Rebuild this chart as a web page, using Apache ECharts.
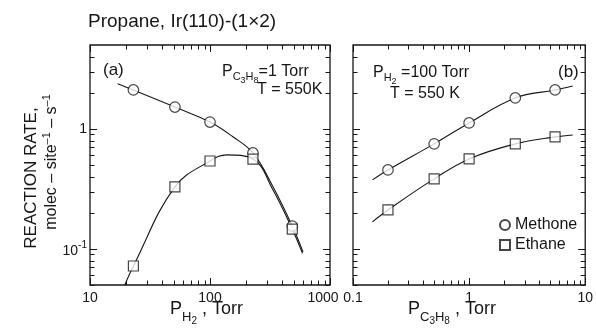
<!DOCTYPE html>
<html>
<head>
<meta charset="utf-8">
<script src="https://cdn.jsdelivr.net/npm/echarts@6/dist/echarts.min.js"></script>
<style>
  html, body { margin: 0; padding: 0; background: #fff; }
  #chart { width: 596px; height: 331px; }
</style>
</head>
<body>
<div id="chart"></div>
<script>
const INK = '#161616';
const FONT = '"Liberation Sans", Arial, sans-serif';

// (a) rate vs hydrogen pressure, P(C3H8) = 1 Torr, T = 550 K
const pH2 = [23, 51, 100, 228, 485];
const methaneVsH2 = [2.11, 1.52, 1.14, 0.63, 0.155];
const ethaneVsH2 = [0.072, 0.329, 0.54, 0.56, 0.146];
// hand-drawn guide curves through each set, as [pressure, rate]
const methaneCurveH2 = [[17, 2.38], [23, 2.11], [51, 1.52], [100, 1.14], [155, 0.86], [228, 0.63], [335, 0.33], [485, 0.155], [596, 0.094]];
const ethaneCurveH2 = [[19.5, 0.05], [23, 0.072], [51, 0.329], [100, 0.54], [138, 0.607], [228, 0.56], [335, 0.31], [485, 0.146], [590, 0.092]];

// (b) rate vs propane pressure, P(H2) = 100 Torr, T = 550 K
const pC3H8 = [0.2, 0.5, 1, 2.5, 5.5];
const methaneVsC3H8 = [0.455, 0.75, 1.12, 1.81, 2.11];
const ethaneVsC3H8 = [0.211, 0.383, 0.562, 0.75, 0.858];
const methaneCurveC3H8 = [[0.147, 0.376], [0.2, 0.455], [0.5, 0.75], [1, 1.12], [2.5, 1.81], [5.5, 2.11], [7.8, 2.28]];
const ethaneCurveC3H8 = [[0.147, 0.168], [0.2, 0.211], [0.5, 0.383], [1, 0.562], [2.5, 0.75], [5.5, 0.858], [7.8, 0.89]];

// axis ranges and tick marks
const rateRange = [0.05, 5];
const pH2Range = [10, 1000];
const pC3H8Range = [0.1, 10];
const rateMajor = [0.1, 1];
const rateMinor = [0.05, 0.06, 0.07, 0.08, 0.09, 0.2, 0.3, 0.4, 0.5, 0.6, 0.7, 0.8, 0.9, 2, 3, 4];
const pH2Major = [10, 100, 1000];
const pH2Minor = [20, 30, 40, 50, 60, 70, 80, 90, 200, 300, 400, 500, 600, 700, 800, 900];
const pC3H8Major = [0.1, 1, 10];
const pC3H8Minor = [0.2, 0.3, 0.4, 0.5, 0.6, 0.7, 0.8, 0.9, 2, 3, 4, 5, 6, 7, 8, 9];

const near = (a, b) => Math.abs(a - b) < 1e-9 * Math.max(1, Math.abs(b));

const MAJOR_LEN = 7;
const MINOR_LEN = 4.5;

const markerStyle = { color: '#fff', borderColor: INK, borderWidth: 1.2 };
const curveStyle = { color: INK, width: 1.1 };

function curve(name, data, gi) {
  return {
    type: 'line', name, data, xAxisIndex: gi, yAxisIndex: gi,
    smooth: 0.4, symbol: 'none', lineStyle: curveStyle, silent: true, z: 2, clip: true
  };
}
function markers(name, xs, ys, gi, symbol) {
  return {
    type: 'scatter', name, xAxisIndex: gi, yAxisIndex: gi,
    data: xs.map((x, i) => [x, ys[i]]),
    symbol, symbolSize: symbol === 'rect' ? 10 : 10.5,
    itemStyle: markerStyle, z: 4
  };
}

const tickFont = { fontFamily: FONT, fontSize: 14, color: INK };

const subRich = {
  b: { fontFamily: FONT, fontSize: 16, color: INK },
  s: { fontFamily: FONT, fontSize: 11, color: INK, padding: [9, 0, 0, 0] },
  ss: { fontFamily: FONT, fontSize: 9, color: INK, padding: [17, 0, 0, 0] },
  x: { fontFamily: FONT, fontSize: 18, color: INK },
  xs: { fontFamily: FONT, fontSize: 13, color: INK, padding: [16, 0, 0, 0] },
  xss: { fontFamily: FONT, fontSize: 10, color: INK, padding: [24, 0, 0, 0] },
  y: { fontFamily: FONT, fontSize: 16, color: INK },
  ys: { fontFamily: FONT, fontSize: 11, color: INK, padding: [0, 0, 10, 0] }
};

function text(x, y, str, size) {
  return {
    type: 'text', x, y, silent: true,
    style: {
      text: str, fill: INK, fontFamily: FONT, fontSize: size,
      align: 'left', verticalAlign: 'middle',
      textAlign: 'left', textVerticalAlign: 'middle',
      rich: subRich
    }
  };
}

const chart = echarts.init(document.getElementById('chart'));

chart.setOption({
  animation: false,
  backgroundColor: '#fff',
  grid: [
    { left: 90, top: 45, width: 240, height: 240, show: true, borderColor: INK, borderWidth: 1.3, backgroundColor: 'transparent' },
    { left: 353, top: 45, width: 240, height: 240, show: true, borderColor: INK, borderWidth: 1.3, backgroundColor: 'transparent' }
  ],
  xAxis: [
    {
      type: 'log', gridIndex: 0, min: pH2Range[0], max: pH2Range[1], logBase: 10,
      axisLine: { show: false }, axisTick: { show: false }, splitLine: { show: false },
      axisLabel: Object.assign({}, tickFont, {
        margin: 6,
        formatter: v => near(v, 1000) ? '{m|1000}' : String(Math.round(v)),
        rich: { m: Object.assign({}, tickFont, { padding: [0, 14, 0, 0] }) }
      })
    },
    {
      type: 'log', gridIndex: 1, min: pC3H8Range[0], max: pC3H8Range[1], logBase: 10,
      axisLine: { show: false }, axisTick: { show: false }, splitLine: { show: false },
      axisLabel: Object.assign({}, tickFont, {
        margin: 6,
        formatter: v => near(v, 0.1) ? '0.1' : near(v, 1) ? '1' : near(v, 10) ? '10' : ''
      })
    }
  ],
  yAxis: [
    {
      type: 'log', gridIndex: 0, min: rateRange[0], max: rateRange[1], logBase: 10,
      axisLine: { show: false }, axisTick: { show: false }, splitLine: { show: false },
      axisLabel: Object.assign({}, tickFont, {
        margin: 3,
        formatter: v => near(v, 1) ? '1' : near(v, 0.1) ? '{n|10}{e|-1}' : '',
        rich: {
          n: Object.assign({}, tickFont, { padding: [5, 0, 0, 0] }),
          e: Object.assign({}, tickFont, { fontSize: 10, padding: [0, 0, 8, 0] })
        }
      })
    },
    {
      type: 'log', gridIndex: 1, min: rateRange[0], max: rateRange[1], logBase: 10,
      axisLine: { show: false }, axisTick: { show: false }, splitLine: { show: false },
      axisLabel: { show: false }
    }
  ],
  legend: {
    data: ['Methone', 'Ethane'],
    orient: 'vertical', left: 494, top: 212,
    itemWidth: 10, itemHeight: 10, itemGap: 4,
    selectedMode: false,
    textStyle: { fontFamily: FONT, fontSize: 16, color: INK }
  },
  series: [
    curve('Methane curve (a)', methaneCurveH2, 0),
    curve('Ethane curve (a)', ethaneCurveH2, 0),
    curve('Methane curve (b)', methaneCurveC3H8, 1),
    curve('Ethane curve (b)', ethaneCurveC3H8, 1),
    markers('Methone', pH2, methaneVsH2, 0, 'circle'),
    markers('Ethane', pH2, ethaneVsH2, 0, 'rect'),
    markers('Methone', pC3H8, methaneVsC3H8, 1, 'circle'),
    markers('Ethane', pC3H8, ethaneVsC3H8, 1, 'rect')
  ]
});

// inward ticks on all four edges of a panel, placed through that panel's axes
function panelTicks(gi, xRange, xMajor, xMinor) {
  const toPx = (x, y) => chart.convertToPixel({ xAxisIndex: gi, yAxisIndex: gi }, [x, y]);
  const lo = toPx(xRange[0], rateRange[0]);
  const hi = toPx(xRange[1], rateRange[1]);
  const left = lo[0], bottom = lo[1], right = hi[0], top = hi[1];
  const els = [];
  const seg = (x1, y1, x2, y2) => els.push({
    type: 'line', silent: true, z: 10,
    shape: { x1, y1, x2, y2 },
    style: { stroke: INK, lineWidth: 1 }
  });
  const xTicks = (vals, len) => vals.forEach(v => {
    const x = Math.round(toPx(v, rateRange[0])[0]) + 0.5;
    seg(x, bottom, x, bottom - len);
    seg(x, top, x, top + len);
  });
  const yTicks = (vals, len) => vals.forEach(v => {
    const y = Math.round(toPx(xRange[0], v)[1]) + 0.5;
    seg(left, y, left + len, y);
    seg(right, y, right - len, y);
  });
  xTicks(xMajor, MAJOR_LEN);
  xTicks(xMinor, MINOR_LEN);
  yTicks(rateMajor, MAJOR_LEN);
  yTicks(rateMinor, MINOR_LEN);
  return els;
}

const labels = [
  text(88, 22, 'Propane, Ir(110)-(1×2)', 19),
  // y-axis title, two rotated lines
  {
    type: 'text', x: 31, y: 178, rotation: Math.PI / 2, silent: true,
    style: {
      text: 'REACTION RATE,', fill: INK, fontFamily: FONT, fontSize: 17,
      align: 'center', verticalAlign: 'middle', textAlign: 'center', textVerticalAlign: 'middle'
    }
  },
  {
    type: 'text', x: 52, y: 162, rotation: Math.PI / 2, silent: true,
    style: {
      text: '{y|molec – site}{ys|–1}{y| – s}{ys|–1}', fill: INK, fontFamily: FONT, fontSize: 16,
      align: 'center', verticalAlign: 'middle', textAlign: 'center', textVerticalAlign: 'middle',
      rich: subRich
    }
  },
  // panel (a) annotations
  text(103, 70, '(a)', 17),
  text(222, 72, '{b|P}{s|C}{ss|3}{s|H}{ss|8}{b|=1 Torr}', 16),
  text(257, 90, 'T = 550K', 16),
  // panel (b) annotations
  text(373, 73, '{b|P}{s|H}{ss|2}{b| =100 Torr}', 16),
  text(390, 94, 'T = 550 K', 16),
  text(558, 72, '(b)', 17),
  // x-axis titles
  text(170, 309, '{x|P}{xs|H}{xss|2}{x| , Torr}', 18),
  text(408, 309, '{x|P}{xs|C}{xss|3}{xs|H}{xss|8}{x| , Torr}', 18)
];

chart.setOption({
  graphic: labels
    .concat(panelTicks(0, pH2Range, pH2Major, pH2Minor))
    .concat(panelTicks(1, pC3H8Range, pC3H8Major, pC3H8Minor))
});
</script>
</body>
</html>
